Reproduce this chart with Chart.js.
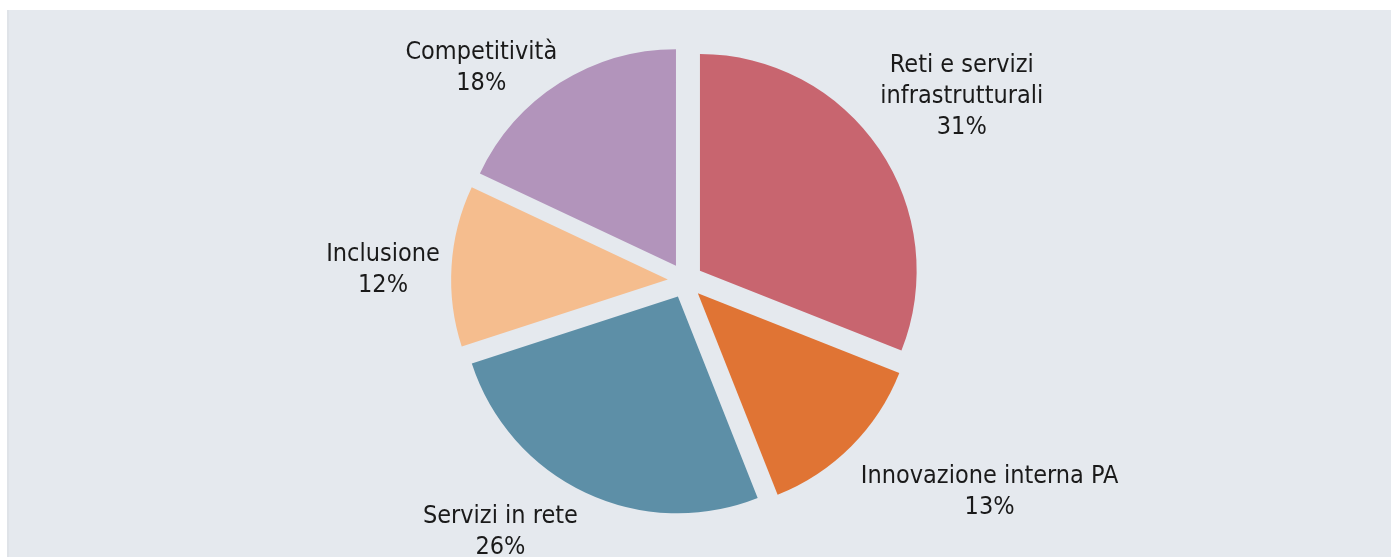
<!DOCTYPE html>
<html lang="it">
<head>
<meta charset="utf-8">
<title>Ripartizione per area di intervento</title>
<script src="https://cdn.jsdelivr.net/npm/chart.js@4.4.1/dist/chart.umd.min.js"></script>
<style>
  html, body { margin: 0; padding: 0; background: #ffffff; }
  #wrap { position: relative; width: 1391px; height: 557px; }
  canvas { display: block; }
</style>
</head>
<body>
<div id="wrap"><canvas id="chart" width="1391" height="557"></canvas></div>
<script>
// Aree di intervento (ordine orario a partire dalle ore 12)
const categories = [
  ['Reti e servizi', 'infrastrutturali'],
  ['Innovazione interna PA'],
  ['Servizi in rete'],
  ['Inclusione'],
  ['Competitività']
];
// Quote percentuali
const shares = [31, 13, 26, 12, 18];
const sliceColors = ['#c8656f', '#e07434', '#5d8fa7', '#f5bd8e', '#b294bb'];

// Layout
const PANEL_BG = '#e5e9ee';
const PIE_RADIUS = 216.7;
const EXPLODE = 17.6;            // radial shift of every slice
const LABEL_DIST = 310;          // distance of label blocks from the pie centre
const LINE_HEIGHT = 31;
const labelNudge = [[20, -12], [85, -10], [-53, -32], [7, 6], [-38, 47]];
const FONT = "25px 'DejaVu Sans Condensed', 'DejaVu Sans', sans-serif";

// Light panel behind the chart
const panelPlugin = {
  id: 'panel',
  beforeDraw(chart) {
    const ctx = chart.ctx;
    ctx.save();
    ctx.fillStyle = '#ffffff';
    ctx.fillRect(0, 0, chart.width, chart.height);
    ctx.fillStyle = '#dfe3e8';
    ctx.fillRect(7, 10, 2, chart.height - 10);
    ctx.fillStyle = PANEL_BG;
    ctx.fillRect(9, 10, chart.width - 9, chart.height - 10);
    ctx.restore();
  }
};

// Pulls each slice outward along its bisector, keeping the radius unchanged
const explodePlugin = {
  id: 'explode',
  afterDatasetUpdate(chart, args) {
    const meta = chart.getDatasetMeta(args.index);
    meta.data.forEach(arc => {
      const mid = (arc.startAngle + arc.endAngle) / 2;
      arc.x += Math.cos(mid) * EXPLODE;
      arc.y += Math.sin(mid) * EXPLODE;
    });
  }
};

// Category name and percentage outside each slice
const labelPlugin = {
  id: 'sliceLabels',
  afterDatasetsDraw(chart) {
    const ctx = chart.ctx;
    const area = chart.chartArea;
    const cx = (area.left + area.right) / 2;
    const cy = (area.top + area.bottom) / 2;
    const meta = chart.getDatasetMeta(0);
    const values = chart.data.datasets[0].data;
    ctx.save();
    ctx.font = FONT;
    ctx.fillStyle = '#1a1a1a';
    ctx.textAlign = 'center';
    ctx.textBaseline = 'alphabetic';
    meta.data.forEach((arc, i) => {
      const mid = (arc.startAngle + arc.endAngle) / 2;
      const bx = cx + Math.cos(mid) * LABEL_DIST + labelNudge[i][0];
      const by = cy + Math.sin(mid) * LABEL_DIST + labelNudge[i][1];
      const lines = chart.data.labels[i].concat([values[i] + '%']);
      const n = lines.length;
      lines.forEach((txt, k) => {
        const y = by + (k - (n - 1) / 2) * LINE_HEIGHT + 9;
        ctx.fillText(txt, bx, y);
      });
    });
    ctx.restore();
  }
};

new Chart(document.getElementById('chart'), {
  type: 'pie',
  data: {
    labels: categories,
    datasets: [{
      data: shares,
      backgroundColor: sliceColors,
      borderWidth: 0,
      radius: PIE_RADIUS
    }]
  },
  options: {
    responsive: false,
    animation: false,
    events: [],
    layout: { padding: { left: 0, right: 20.2, top: 4.4, bottom: 0 } },
    plugins: {
      legend: { display: false },
      tooltip: { enabled: false }
    }
  },
  plugins: [panelPlugin, explodePlugin, labelPlugin]
});
</script>
</body>
</html>
